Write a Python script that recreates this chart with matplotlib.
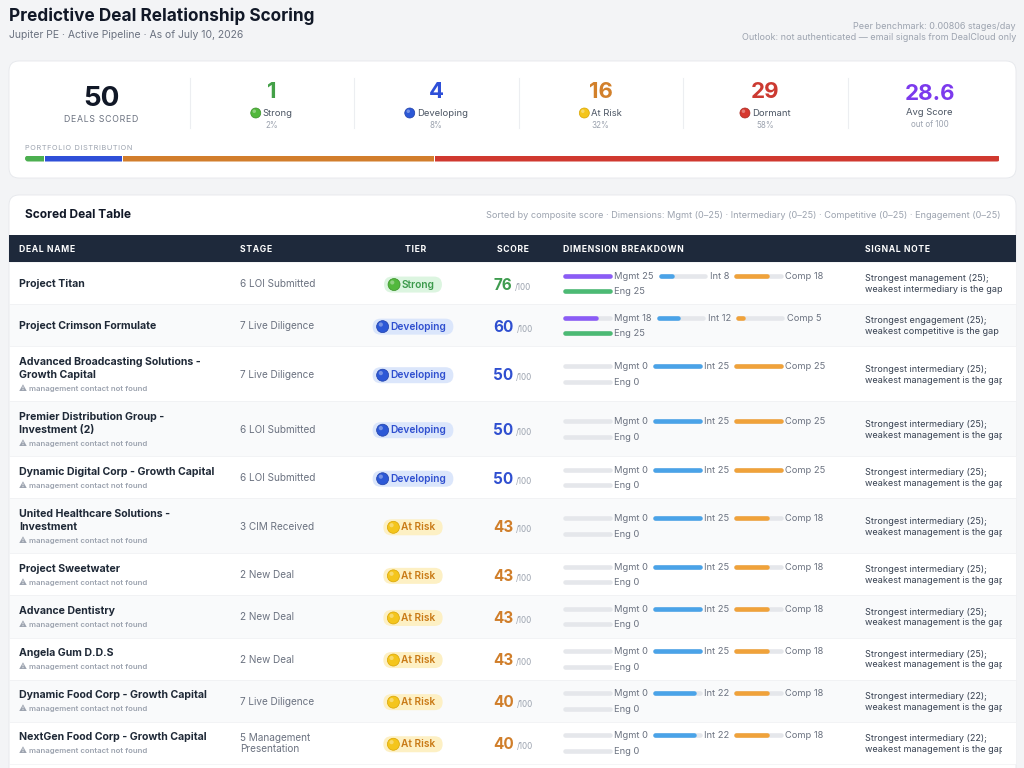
import matplotlib
matplotlib.use('Agg')
import matplotlib.pyplot as plt
from matplotlib.patches import FancyBboxPatch, Rectangle, Circle
from matplotlib.transforms import Bbox

plt.rcParams['font.family'] = ['Inter', 'DejaVu Sans']

# ---- data ----
tier_names = ['Strong', 'Developing', 'At Risk', 'Dormant']
tier_counts = [1, 4, 16, 29]
tier_pcts = ['2%', '8%', '32%', '58%']
deals_scored = 50
avg_score = 28.6

deal_names = ['Project Titan', 'Project Crimson Formulate',
              'Advanced Broadcasting Solutions -\nGrowth Capital',
              'Premier Distribution Group -\nInvestment (2)',
              'Dynamic Digital Corp - Growth Capital',
              'United Healthcare Solutions -\nInvestment',
              'Project Sweetwater', 'Advance Dentistry', 'Angela Gum D.D.S',
              'Dynamic Food Corp - Growth Capital',
              'NextGen Food Corp - Growth Capital']
mgmt_missing = [False, False, True, True, True, True, True, True, True, True, True]
stages = ['6 LOI Submitted', '7 Live Diligence', '7 Live Diligence', '6 LOI Submitted',
          '6 LOI Submitted', '3 CIM Received', '2 New Deal', '2 New Deal', '2 New Deal',
          '7 Live Diligence', '5 Management\nPresentation']
tiers = ['Strong', 'Developing', 'Developing', 'Developing', 'Developing',
         'At Risk', 'At Risk', 'At Risk', 'At Risk', 'At Risk', 'At Risk']
scores = [76, 60, 50, 50, 50, 43, 43, 43, 43, 40, 40]
mgmt = [25, 18, 0, 0, 0, 0, 0, 0, 0, 0, 0]
inter = [8, 12, 25, 25, 25, 25, 25, 25, 25, 22, 22]
comp = [18, 5, 25, 25, 25, 18, 18, 18, 18, 18, 18]
eng = [25, 25, 0, 0, 0, 0, 0, 0, 0, 0, 0]
notes = ['Strongest management (25);\nweakest intermediary is the gap',
         'Strongest engagement (25);\nweakest competitive is the gap'] + \
        ['Strongest intermediary (25);\nweakest management is the gap'] * 7 + \
        ['Strongest intermediary (22);\nweakest management is the gap'] * 2

# ---- styles ----
tier_fg = {'Strong': '#3f9c4f', 'Developing': '#2f4fd0', 'At Risk': '#d07e2a', 'Dormant': '#cc3a31'}
badge_bg = {'Strong': '#dcf5e0', 'Developing': '#dbe6fb', 'At Risk': '#fdf0c4', 'Dormant': '#fde2e0'}
badge_fg = {'Strong': '#3c9a4b', 'Developing': '#2f4fcf', 'At Risk': '#c97a16', 'Dormant': '#c83a32'}
dot_col = {'Strong': '#52b83c', 'Developing': '#2c58d6', 'At Risk': '#f4c51c', 'Dormant': '#d6382f'}
dot_edge = {'Strong': '#3a8f2a', 'Developing': '#1f3fa8', 'At Risk': '#d9a400', 'Dormant': '#a82a22'}
kpi_col = {'Strong': '#43a047', 'Developing': '#2e4fd8', 'At Risk': '#d2802b', 'Dormant': '#cc3a31'}
bar_col = {'Strong': '#4caf50', 'Developing': '#2e4fd8', 'At Risk': '#d27e2c', 'Dormant': '#d0392f'}
dim_col = ['#8b5cf6', '#4aa3e8', '#f0a23a', '#4cba74']
TRACK = '#e5e7eb'
DARK = '#111827'
GRAY = '#6b7280'
LIGHT = '#9ca3af'
HS = '\u200a'   # hair space, used for letter spacing of caps labels


def spaced(s):
    return HS.join(s)


W, H = 1024, 768
fig = plt.figure(figsize=(W / 100, H / 100), dpi=100)
fig.patch.set_facecolor('#f3f4f6')
ax = fig.add_axes([0, 0, 1, 1])
ax.set_xlim(0, W)
ax.set_ylim(H, 0)
ax.axis('off')
rend = fig.canvas.get_renderer()


def tw(t):
    return t.get_window_extent(renderer=rend).width


def emoji_dot(x, y, r, tier):
    ax.add_patch(Circle((x, y), r, fc=dot_col[tier], ec=dot_edge[tier], lw=0.5, zorder=5))
    ax.add_patch(Circle((x - r * 0.3, y - r * 0.35), r * 0.35, fc='white', ec='none', alpha=0.35, zorder=6))


def dim_bar(x, y, val, color, w=49, lw=3.3):
    cap = 2.3
    ax.plot([x + cap, x + w - cap], [y, y], color=TRACK, lw=lw, solid_capstyle='round', zorder=4)
    if val > 0:
        fw = w * val / 25
        ax.plot([x + cap, x + max(fw - cap, cap + 0.1)], [y, y], color=color, lw=lw,
                solid_capstyle='round', zorder=5)


# ---- header ----
ax.text(9, 16.5, 'Predictive Deal Relationship Scoring', fontsize=12.4, fontweight='bold',
        color=DARK, va='center', ha='left')
ax.text(9, 35.5, 'Jupiter PE · Active Pipeline · As of July 10, 2026', fontsize=7.5,
        color=GRAY, va='center', ha='left')
ax.text(1016, 26.5, 'Peer benchmark: 0.00806 stages/day', fontsize=6.5, color=LIGHT, va='center', ha='right')
ax.text(1016, 37.5, 'Outlook: not authenticated — email signals from DealCloud only', fontsize=6.5,
        color=LIGHT, va='center', ha='right')

# ---- KPI card ----
ax.add_patch(FancyBboxPatch((9, 61), 1007, 117, boxstyle='round,pad=0,rounding_size=10',
                            fc='white', ec='#e5e7eb', lw=0.6, zorder=1))
col_left, col_w = 25, 164.5
centers = [col_left + col_w * (i + 0.5) for i in range(6)]
centers[0] -= 6
for i in range(1, 6):
    ax.plot([col_left + col_w * i] * 2, [78, 128], color='#eceef1', lw=0.8, zorder=2)

ax.text(centers[0], 98.5, str(deals_scored), fontsize=20, fontweight='bold', color=DARK,
        ha='center', va='center')
ax.text(centers[0], 119.5, spaced('DEALS SCORED'), fontsize=6.3, color=GRAY, ha='center', va='center')
for k, tier in enumerate(tier_names):
    cx = centers[k + 1]
    ax.text(cx, 92.5, str(tier_counts[k]), fontsize=16, fontweight='bold', color=kpi_col[tier],
            ha='center', va='center')
    lab = ax.text(0, 113.5, tier, fontsize=6.8, color='#4b5563', ha='left', va='center')
    gw = 10 + 2 + tw(lab)
    x0 = cx - gw / 2
    emoji_dot(x0 + 5, 113, 5, tier)
    lab.set_x(x0 + 12)
    ax.text(cx, 125.5, tier_pcts[k], fontsize=5.8, color=LIGHT, ha='center', va='center')
ax.text(centers[5], 93.5, '{:.1f}'.format(avg_score), fontsize=16, fontweight='bold', color='#7c3aed',
        ha='center', va='center')
ax.text(centers[5], 112.5, 'Avg Score', fontsize=6.8, color='#4b5563', ha='center', va='center')
ax.text(centers[5], 124.5, 'out of 100', fontsize=5.8, color=LIGHT, ha='center', va='center')

# portfolio distribution bar
ax.text(25, 147.5, spaced('PORTFOLIO DISTRIBUTION'), fontsize=5.3, color=LIGHT, ha='left', va='center')
bx0, bx1, by, bh = 25, 1000, 155.5, 6
track = FancyBboxPatch((bx0, by), bx1 - bx0, bh, boxstyle='round,pad=0,rounding_size=3',
                       fc='none', ec='none', zorder=2)
ax.add_patch(track)
total = sum(tier_counts)
xx = bx0
for tier, c in zip(tier_names, tier_counts):
    w = (bx1 - bx0) * c / total
    r = Rectangle((xx, by), w - 1, bh, fc=bar_col[tier], ec='none', zorder=3)
    ax.add_patch(r)
    r.set_clip_path(track)
    xx += w

# ---- table card ----
ax.add_patch(FancyBboxPatch((9, 195), 1007, 620, boxstyle='round,pad=0,rounding_size=10',
                            fc='white', ec='#e5e7eb', lw=0.6, zorder=1))
ax.text(25, 215.5, 'Scored Deal Table', fontsize=8.6, fontweight='bold', color=DARK, ha='left', va='center')
ax.text(1000, 215.5, 'Sorted by composite score · Dimensions: Mgmt (0–25) · Intermediary (0–25) · '
        'Competitive (0–25) · Engagement (0–25)', fontsize=6.6, color=LIGHT, ha='right', va='center')

ax.add_patch(Rectangle((9, 235), 1007, 27, fc='#1e293b', ec='none', zorder=2))
hdr = [('DEAL NAME', 19, 'left'), ('STAGE', 240, 'left'), ('TIER', 416, 'center'),
       ('SCORE', 497, 'left'), ('DIMENSION BREAKDOWN', 563, 'left'), ('SIGNAL NOTE', 865, 'left')]
for s, x, ha in hdr:
    ax.text(x, 249.5, spaced(s), fontsize=6.2, fontweight='bold', color='white', ha=ha, va='center', zorder=3)

note_clip = Bbox.from_extents(0, 0, 1002, H)
y = 262
for i in range(len(deal_names)):
    name_lines = deal_names[i].split('\n')
    h = 42.1 if len(name_lines) == 1 else 55
    ax.add_patch(Rectangle((9, y), 1007, h, fc='white' if i % 2 == 0 else '#f9fafb',
                           ec='#f0f1f3', lw=0.5, zorder=2))
    cy = y + h / 2 + 1

    lines = list(name_lines)
    if mgmt_missing[i]:
        lines.append(None)
    y0 = cy - (len(lines) - 1) * 13 / 2
    for j, ln in enumerate(lines):
        if ln is None:
            ax.text(19, y0 + j * 13, '⚠ management contact not found', fontsize=5.6,
                    fontweight='semibold', color=LIGHT, ha='left', va='center', zorder=4)
        else:
            ax.text(19, y0 + j * 13, ln, fontsize=7.6, fontweight='bold', color='#1f2937',
                    ha='left', va='center', zorder=4)

    ax.text(240, cy, stages[i], fontsize=7.2, color=GRAY, ha='left', va='center',
            linespacing=1.15, zorder=4)

    # tier badge
    tier = tiers[i]
    bt = ax.text(0, cy + 0.5, tier, fontsize=7.3, fontweight='semibold', color=badge_fg[tier],
                 ha='left', va='center', zorder=6)
    bw = 4 + 12 + 2 + tw(bt) + 7
    bx = 413 - bw / 2
    ax.add_patch(FancyBboxPatch((bx, cy + 0.5 - 8), bw, 16, boxstyle='round,pad=0,rounding_size=8',
                                fc=badge_bg[tier], ec='none', zorder=4))
    emoji_dot(bx + 4 + 6, cy + 0.5, 6, tier)
    bt.set_x(bx + 4 + 12 + 2)

    # score
    st = ax.text(493, cy + 5.5, str(scores[i]), fontsize=11, fontweight='bold', color=tier_fg[tier],
                 ha='left', va='baseline', zorder=4)
    ax.text(493 + tw(st) + 3, cy + 5.5, '/100', fontsize=5.8, color=LIGHT, ha='left',
            va='baseline', zorder=4)

    # dimension breakdown
    ly = cy - 8
    x = 563
    for lab, val, col in [('Mgmt', mgmt[i], dim_col[0]), ('Int', inter[i], dim_col[1]),
                          ('Comp', comp[i], dim_col[2])]:
        dim_bar(x, ly - 0.5, val, col)
        t = ax.text(x + 51, ly, '{} {}'.format(lab, val), fontsize=6.7, color=GRAY,
                    ha='left', va='center', zorder=4)
        x = x + 51 + tw(t) + 5
    dim_bar(563, cy + 7, eng[i], dim_col[3])
    ax.text(563 + 51, cy + 7.5, 'Eng {}'.format(eng[i]), fontsize=6.7, color=GRAY,
            ha='left', va='center', zorder=4)

    # signal note
    nt = ax.text(865, cy, notes[i], fontsize=6.5, color='#374151', ha='left', va='center',
                 linespacing=1.25, zorder=4)
    nt.set_clip_box(note_clip)
    nt.set_clip_on(True)

    y += h

fig.savefig('out.png', dpi=100, facecolor=fig.get_facecolor())
